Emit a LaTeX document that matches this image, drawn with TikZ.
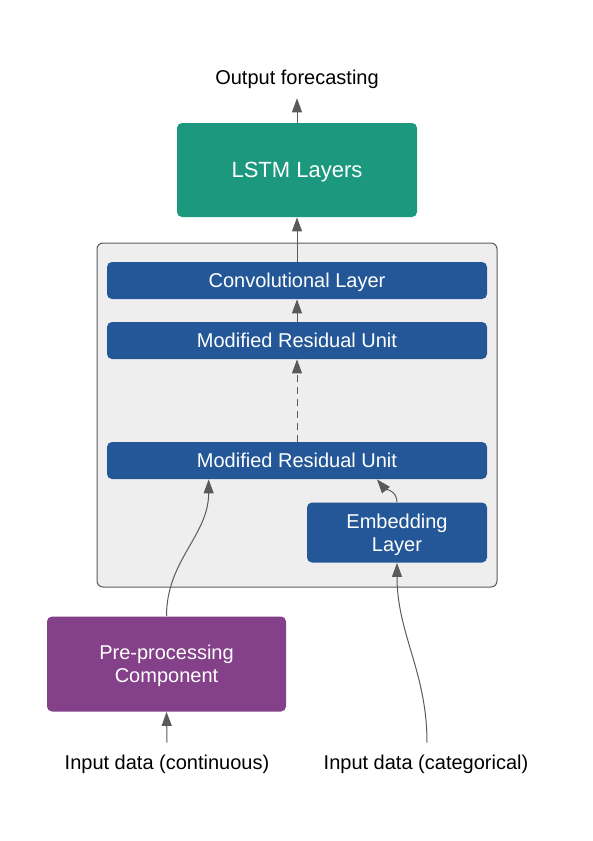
\documentclass[tikz,border=0pt]{standalone}
\usepackage{fontspec}
\setmainfont{Liberation Sans}
\usetikzlibrary{calc,arrows.meta}
\definecolor{layerColor}{RGB}{35, 87, 151}
\definecolor{lstmColor}{RGB}{27, 152, 126}
\definecolor{prepColor}{RGB}{132, 65, 137}
\definecolor{groupColor}{RGB}{238, 238, 238}
\definecolor{lineColor}{RGB}{90, 90, 90}

\begin{document}
\begin{tikzpicture}[
    x=0.5pt, y=-0.5pt,
    every node/.style={font=\fontsize{10}{11.7}\selectfont, text depth=0pt},
    layer/.style={fill=layerColor, text=white, rounded corners=2.5pt, inner sep=0pt, align=center},
    wide layer/.style={layer, minimum width=190pt, minimum height=18.5pt},
    flow/.style={-{Triangle[length=7pt, width=5pt]}, lineColor, line width=0.5pt},
    dashed flow/.style={flow, dash pattern=on 3.5pt off 2.5pt}
]
    \useasboundingbox (0,0) rectangle (593,841);

    \draw[fill=groupColor, draw=lineColor, line width=0.5pt, rounded corners=3pt] (97,243) rectangle (497,587);

    \node [layer, fill=lstmColor, minimum width=120pt, minimum height=47pt, font=\fontsize{11}{13}\selectfont] (lstm) at (297,170) {LSTM Layers};
    \node (out) at (297,77) {Output forecasting};

    \node [wide layer] (conv) at (297,280.5) {Convolutional Layer};
    \node [wide layer] (mru_top) at (297,340.5) {Modified Residual Unit};
    \node [wide layer] (mru_bot) at (297,460.5) {Modified Residual Unit};
    \node [layer, minimum width=90pt, minimum height=30pt] (embed) at (397,532.5) {Embedding\\Layer};

    \node [layer, fill=prepColor, minimum width=119.5pt, minimum height=47.5pt] (prep) at (166.5,664) {Pre-processing\\Component};

    \node (in_cont) at (167,762) {Input data (continuous)};
    \node (in_cat) at (426,762) {Input data (categorical)};

    \draw[flow] (lstm.north) -- ($ (out.south) + (0,7) $);
    \draw[flow] (conv.north) -- (lstm.south);
    \draw[flow] (mru_top.north) -- (conv.south);
    \draw[dashed flow] (mru_bot.north) -- (mru_top.south);

    \draw[flow] (prep.north) to[out=90, in=-90] ($ (mru_bot.south west)!.268!(mru_bot.south east) $);
    \draw[flow] (embed.north) to[out=90, in=-50] ($ (mru_bot.south west)!.71!(mru_bot.south east) $);

    \draw[flow] ($ (in_cont.north) + (0,-5) $) -- (prep.south);
    \draw[flow] ($ (in_cat.north) + (1,-5) $) to[out=90, in=-90] (embed.south);
\end{tikzpicture}
\end{document}
